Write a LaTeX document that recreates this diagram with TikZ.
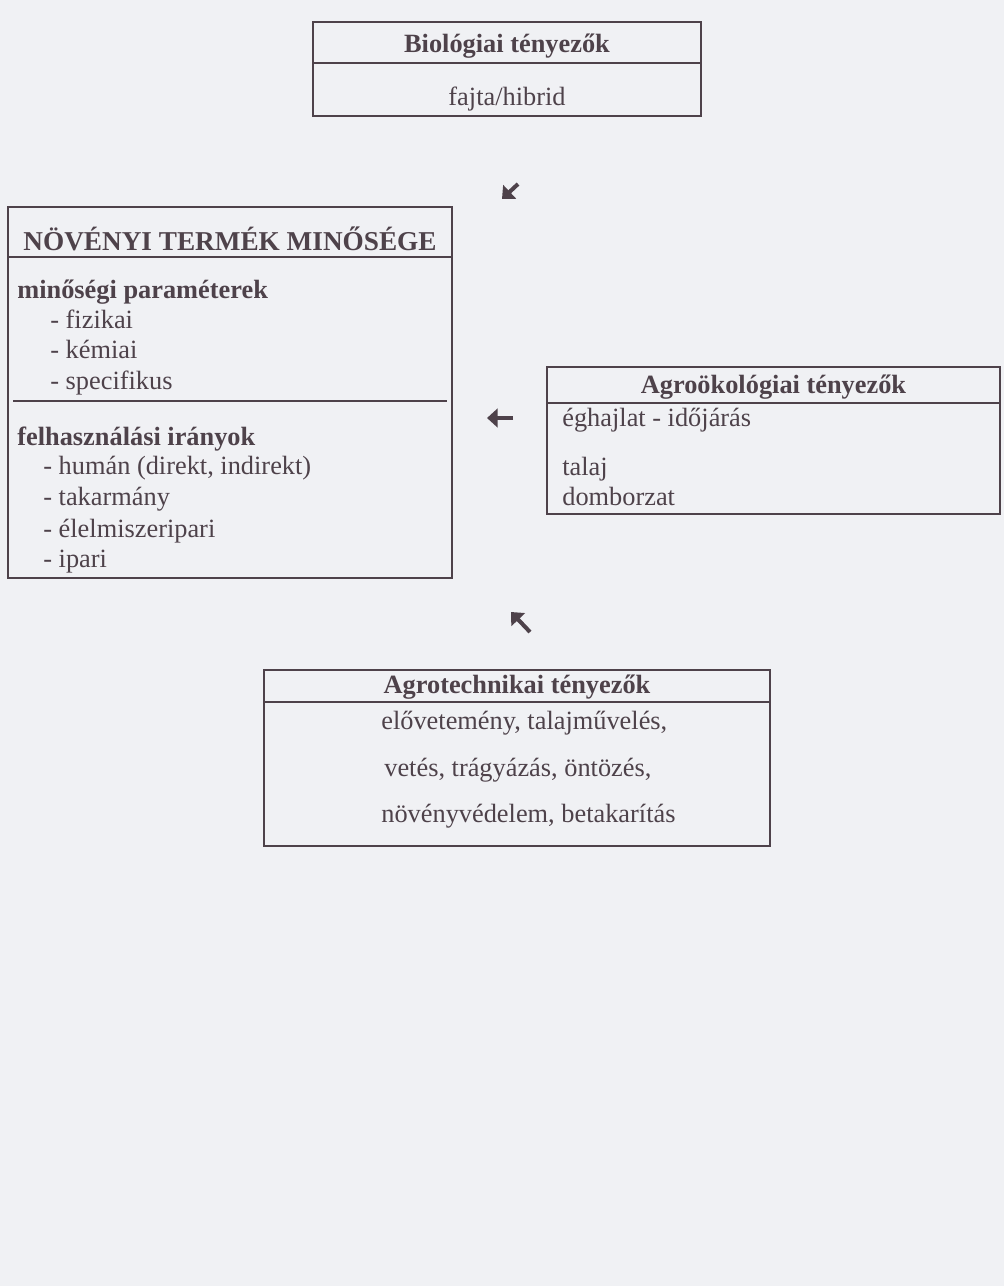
\documentclass[tikz,border=0pt]{standalone}
\usepackage{fontspec}
\setmainfont{Liberation Serif}
\usepackage{tikz}
\usetikzlibrary{arrows.meta}

\definecolor{ink}{RGB}{78,66,74}
\definecolor{paper}{RGB}{240,241,244}

\begin{document}
\begin{tikzpicture}[
        x=0.02cm, y=-0.02cm,
        font=\fontsize{15}{18}\selectfont,
        every node/.style={text=ink, inner sep=0pt},
        box/.style={draw=ink, line width=1.1pt, outer sep=0pt},
        rule/.style={draw=ink, line width=1.1pt},
        boxtitle/.style={anchor=base, font=\fontsize{15}{18}\selectfont\bfseries},
        entry/.style={anchor=base west},
        heading/.style={anchor=base west, font=\fontsize{15}{18}\selectfont\bfseries},
        flow/.style={draw=ink, line width=2.3pt, -{Triangle[length=6pt, width=10.5pt]}}
    ]

    % Page of the scan
    \fill[paper] (0,0) rectangle (1004,1286);
    \useasboundingbox (0,0) rectangle (1004,1286);

    % Horizontal lines under the box titles
    \def\ybio{63}      % Biological factors
    \def\yqual{257}    % Product quality
    \def\yeco{403}     % Agro-ecological factors
    \def\ytech{702}    % Agrotechnical factors

    % --- Box: Biológiai tényezők ---
    \node[box, minimum width=7.76cm, minimum height=1.88cm] (bioBox) at (507,69) {};
    \draw[rule] (bioBox.west |- 0,\ybio) -- (bioBox.east |- 0,\ybio);
    \node[boxtitle] (bioTitle) at (507,52) {Biológiai tényezők};
    \node[anchor=base] (bioItem) at (507,105) {fajta/hibrid};

    % --- Box: Növényi termék minősége ---
    \node[box, minimum width=8.88cm, minimum height=7.42cm] (qualBox) at (230,392.5) {};
    \draw[rule] (qualBox.west |- 0,\yqual) -- (qualBox.east |- 0,\yqual);
    \node[boxtitle, font=\fontsize{15.5}{18}\selectfont\bfseries] (qualTitle) at (230,250) {NÖVÉNYI TERMÉK MINŐSÉGE};

    \node[heading] (paramHead) at (17,298) {minőségi paraméterek};
    \node[entry] (paramPhys) at (50,328) {- fizikai};
    \node[entry] (paramChem) at (50,358) {- kémiai};
    \node[entry] (paramSpec) at (50,389) {- specifikus};

    \draw[rule] (13,401) -- (447,401);

    \node[heading] (useHead) at (17,445) {felhasználási irányok};
    \node[entry] (useHuman) at (43,474) {- humán (direkt, indirekt)};
    \node[entry] (useFeed) at (43,505) {- takarmány};
    \node[entry] (useFood) at (43,537) {- élelmiszeripari};
    \node[entry] (useInd) at (43,567) {- ipari};

    % --- Box: Agroökológiai tényezők ---
    \node[box, minimum width=9.06cm, minimum height=2.94cm] (ecoBox) at (773.5,440.5) {};
    \draw[rule] (ecoBox.west |- 0,\yeco) -- (ecoBox.east |- 0,\yeco);
    \node[boxtitle] (ecoTitle) at (773.5,393) {Agroökológiai tényezők};
    \node[entry] (ecoClimate) at (562,426) {éghajlat - időjárás};
    \node[entry] (ecoSoil) at (562,475) {talaj};
    \node[entry] (ecoRelief) at (562,505) {domborzat};

    % --- Box: Agrotechnikai tényezők ---
    \node[box, minimum width=10.12cm, minimum height=3.52cm] (techBox) at (517,758) {};
    \draw[rule] (techBox.west |- 0,\ytech) -- (techBox.east |- 0,\ytech);
    \node[boxtitle] (techTitle) at (517,693) {Agrotechnikai tényezők};
    \node[entry] (techA) at (381,729) {elővetemény, talajművelés,};
    \node[entry] (techB) at (384,776) {vetés, trágyázás, öntözés,};
    \node[entry] (techC) at (381,822) {növényvédelem, betakarítás};

    % --- Small arrows towards the quality box ---
    \coordinate (bioTail) at (518,184);
    \coordinate (bioTip) at (502,199);
    \draw[flow] (bioTail) -- (bioTip);

    \coordinate (ecoTail) at (513,418);
    \coordinate (ecoTip) at (487,418);
    \draw[flow] (ecoTail) -- (ecoTip);

    \coordinate (techTail) at (530,632);
    \coordinate (techTip) at (511,612);
    \draw[flow] (techTail) -- (techTip);

\end{tikzpicture}
\end{document}
